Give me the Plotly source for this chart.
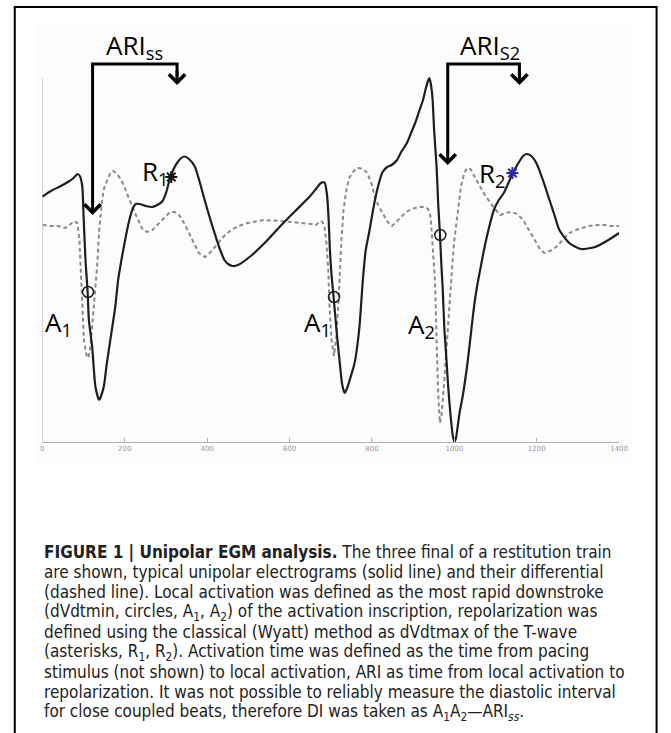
import plotly.graph_objects as go

# ---------------- data (time in ms, amplitude in arbitrary units) ----------------
egm_t = [0, 21, 45, 64, 76, 85, 91, 97, 100, 105, 110, 113, 121, 129, 138, 149, 156, 165, 177, 184,
         192, 201, 210, 220, 227, 236, 251, 267, 279, 291, 301, 310, 320, 327, 337, 345, 356, 370, 382, 394,
         406, 418, 430, 442, 451, 462, 475, 506, 542, 578, 614, 649, 666, 676, 685, 691, 695, 698, 702, 707,
         714, 722, 728, 734, 740, 746, 758, 769, 778, 785, 793, 805, 817, 826, 837, 848, 861, 871, 885, 895,
         905, 914, 924, 931, 936, 939.5, 943, 947, 951, 957, 961, 965, 968, 972, 976, 981, 984, 988, 992, 996,
         1000, 1004, 1008, 1013, 1020, 1032, 1044, 1050, 1058, 1065, 1072, 1084, 1096, 1108, 1120, 1129, 1140, 1150, 1160, 1167,
         1175, 1187, 1199, 1215, 1231, 1243, 1255, 1279, 1307, 1342, 1374, 1400]
egm_v = [245.5, 251, 256, 260.5, 264, 268, 266, 255.5, 227, 180, 150, 122, 95, 55, 42, 55, 77, 102, 135, 162,
         182, 202, 220, 234, 238, 238, 236, 235, 237, 240.5, 250, 264, 274, 279, 284, 285.5, 283, 275.5, 260, 242,
         225, 209, 194, 182, 178, 176, 177, 186, 200, 216, 231, 245.5, 254, 259, 259.5, 247, 222, 192, 167, 145,
         112, 79, 57, 49, 54, 62, 79, 112, 162, 192, 209, 237, 259, 270, 275, 277, 282, 290, 299, 309,
         319, 330, 342, 354, 361, 364, 358, 344, 312, 275, 237, 209, 182, 152, 112, 82, 62, 40, 22, 7,
         0, 4, 15, 30, 45, 79, 122, 142, 162, 177, 192, 214, 232, 242, 249, 257, 267, 275, 282, 286,
         288, 286, 279, 262, 242, 227, 212, 199, 193, 195, 202, 209]

deriv_t = [1, 21, 37, 57, 69, 76, 85, 90, 93, 97, 101, 107, 112, 117, 122, 129, 133, 138, 145, 150,
           157, 165, 172, 181, 192, 203, 212, 227, 244, 255, 267, 279, 291, 301, 310, 320, 332, 344, 356, 368,
           380, 395, 406, 419, 439, 458, 477, 498, 537, 578, 633, 654, 664, 671, 676, 680, 685, 690, 694, 697,
           702, 708, 714, 719, 722, 726, 731, 738, 745, 754, 762, 769, 778, 789, 800, 809, 819, 828, 838, 849,
           859, 873, 883, 897, 912, 929, 936, 941, 944, 948, 953, 957, 961, 965, 969, 974, 979, 984, 987, 992,
           996, 1000, 1004, 1010, 1016, 1024, 1031, 1039, 1043, 1053, 1064, 1074, 1088, 1098, 1112, 1124, 1139, 1153, 1167, 1182,
           1198, 1208, 1219, 1232, 1247, 1263, 1279, 1301, 1327, 1347, 1366, 1382, 1400]
deriv_v = [217, 216, 216, 214, 218, 221, 219, 202, 175, 129, 102, 87, 84, 97, 122, 162, 175, 212, 242, 254,
           262, 269, 271, 268, 262, 252, 242, 227, 212, 210, 212, 217, 222, 227, 230, 230, 227, 219, 209, 198,
           189, 185, 189, 195, 205, 212, 216, 219, 222, 221, 219, 218, 217, 219, 221, 220, 215, 197, 172, 137,
           102, 86, 107, 142, 172, 202, 232, 252, 264, 270, 273.5, 274, 273, 269, 257, 242, 234, 227, 220, 216,
           220, 225, 230, 233, 235, 235, 233, 229, 217, 192, 162, 102, 47, 19, 27, 52, 82, 112, 137, 162,
           182, 202, 215, 237, 255, 269, 274, 273, 270, 264, 255, 247, 239, 233, 227, 229, 230, 228, 222, 211,
           199, 193, 189, 191, 195, 202, 209, 213, 216, 217, 217, 216, 216]

# activation (circles) and repolarization (asterisks) markers
act_t = [111, 708, 966]
act_v = [150, 145, 207]
rep_t = [313, 1141]
rep_v = [265, 269]
rep_colors = ["#111111", "#2a2aa8"]

# ARI brackets: activation time, repolarization time, activation arrow tip level, label
ari_act = [122, 984]
ari_rep = [327, 1158]
ari_tip = [227, 277]
ari_labels = ["ARI<sub>ss</sub>", "ARI<sub>S2</sub>"]
bracket_level = 378
rep_tip_level = 357

# point labels
lab_text = ["R<sub>1</sub>", "R<sub>2</sub>", "A<sub>1</sub>", "A<sub>1</sub>", "A<sub>2</sub>"]
lab_t = [236, 1055, 2, 630, 882]
lab_v = [270, 268, 119, 119, 117]

xticks = [0, 200, 400, 600, 800, 1000, 1200, 1400]
xticklabels = ["0", "200", "400", "600", "800", "1000", "1200", "1400"]

caption_lines = [
    "<b>FIGURE 1 | Unipolar EGM analysis.</b> The three final of a restitution train",
    "are shown, typical unipolar electrograms (solid line) and their differential",
    "(dashed line). Local activation was defined as the most rapid downstroke",
    "(dVdtmin, circles, A<sub>1</sub>, A<sub>2</sub>) of the activation inscription, repolarization was",
    "defined using the classical (Wyatt) method as dVdtmax of the T-wave",
    "(asterisks, R<sub>1</sub>, R<sub>2</sub>). Activation time was defined as the time from pacing",
    "stimulus (not shown) to local activation, ARI as time from local activation to",
    "repolarization. It was not possible to reliably measure the diastolic interval",
    "for close coupled beats, therefore DI was taken as A<sub>1</sub>A<sub>2</sub>\u2014ARI<sub><i>ss</i></sub>.",
]

# ---------------- figure ----------------
W, H = 671, 733
fig = go.Figure()

fig.add_trace(go.Scatter(x=deriv_t, y=deriv_v, mode="lines",
                         line=dict(color="#8a8a8a", width=2, dash="4px,3px"),
                         hoverinfo="skip", showlegend=False))
fig.add_trace(go.Scatter(x=egm_t, y=egm_v, mode="lines",
                         line=dict(color="#1e1e1e", width=2.2, shape="spline", smoothing=0.6),
                         hoverinfo="skip", showlegend=False))
fig.add_trace(go.Scatter(x=act_t, y=act_v, mode="markers",
                         marker=dict(symbol="circle-open", size=11, color="#1e1e1e",
                                     line=dict(width=1.5, color="#1e1e1e")),
                         hoverinfo="skip", showlegend=False))
fig.add_trace(go.Scatter(x=rep_t, y=rep_v, mode="markers",
                         marker=dict(symbol="asterisk", size=10,
                                     line=dict(width=2, color=rep_colors)),
                         hoverinfo="skip", showlegend=False))

# ARI brackets
for a, r, tip, lab in zip(ari_act, ari_rep, ari_tip, ari_labels):
    fig.add_trace(go.Scatter(x=[a, a, r, r], y=[tip + 12, bracket_level, bracket_level, rep_tip_level + 8],
                             mode="lines", line=dict(color="black", width=3),
                             hoverinfo="skip", showlegend=False))
    for xx, yy in [(a, tip), (r, rep_tip_level)]:
        fig.add_annotation(x=xx, y=yy, xref="x", yref="y", text="", showarrow=True,
                           ax=0, ay=-16, arrowhead=4, arrowsize=1.05, arrowwidth=3,
                           arrowcolor="black", standoff=0)
    fig.add_annotation(x=a + 102, y=bracket_level + 18, xref="x", yref="y", text=lab,
                       showarrow=False, xanchor="center", yanchor="middle",
                       font=dict(family="Open Sans, Noto Sans", size=26, color="black"))

for txt, tx, ty in zip(lab_text, lab_t, lab_v):
    fig.add_annotation(x=tx, y=ty, xref="x", yref="y", text=txt, showarrow=False,
                       xanchor="left", yanchor="middle",
                       font=dict(family="Open Sans, Noto Sans", size=26, color="black"))

# y spine (only over the signal area)
fig.add_shape(type="line", xref="x", yref="y", x0=0, x1=0, y0=0, y1=364,
              line=dict(color="#b5b5b5", width=1), layer="below")

# figure frame and image panel
fig.add_shape(type="rect", xref="paper", yref="paper", x0=35 / W, x1=640 / W,
              y0=1 - 465 / H, y1=1 - 25 / H, line=dict(width=0), fillcolor="#fcfcfc", layer="below")
fig.add_shape(type="line", xref="paper", yref="paper", x0=13 / W, x1=13 / W, y0=0, y1=1 - 7 / H,
              line=dict(color="black", width=2))
fig.add_shape(type="line", xref="paper", yref="paper", x0=665.5 / W, x1=665.5 / W, y0=0, y1=1 - 7 / H,
              line=dict(color="black", width=2))
fig.add_shape(type="line", xref="paper", yref="paper", x0=12 / W, x1=666.5 / W, y0=1 - 7 / H, y1=1 - 7 / H,
              line=dict(color="black", width=2))

# caption
cap_top = 552
cap_step = 20
for i, line in enumerate(caption_lines):
    fig.add_annotation(x=41 / W, y=1 - (cap_top + i * cap_step) / H, xref="paper", yref="paper",
                       text=line, showarrow=False, xanchor="left", yanchor="middle", align="left",
                       font=dict(family="DejaVu Sans Condensed, DejaVu Sans, sans-serif",
                                 size=17, color="#222222"))

fig.update_layout(
    width=W, height=H, autosize=False,
    margin=dict(l=0, r=0, t=0, b=0),
    paper_bgcolor="white", plot_bgcolor="rgba(0,0,0,0)",
    xaxis=dict(domain=[41 / W, 627.4 / W], range=[0, 1400], showgrid=False, zeroline=False,
               showline=True, linecolor="#b0b0b0", linewidth=1,
               ticks="inside", ticklen=4, tickcolor="#b0b0b0",
               tickvals=xticks, ticktext=xticklabels,
               tickfont=dict(size=7, color="#999999", family="DejaVu Sans")),
    yaxis=dict(domain=[1 - 442 / H, 1 - 20 / H], range=[0, 422], visible=False),
)

fig.write_html("out.html")
